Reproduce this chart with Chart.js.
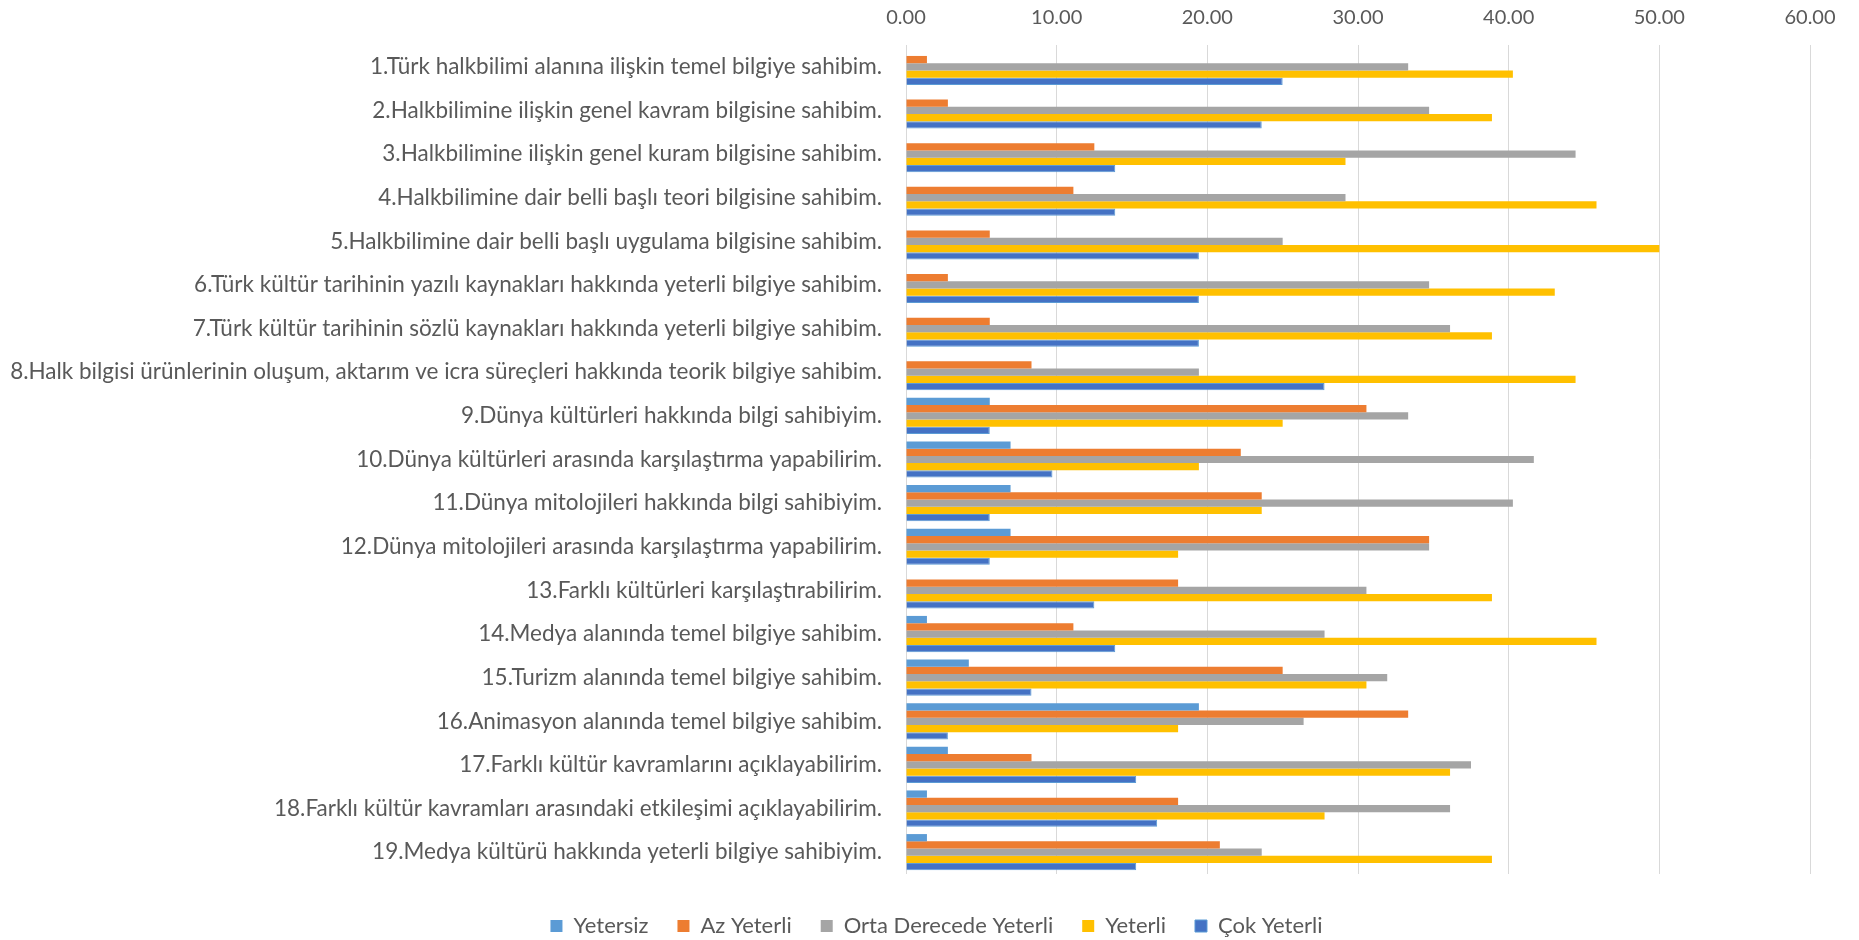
<!DOCTYPE html>
<html>
<head>
<meta charset="utf-8">
<script src="https://cdn.jsdelivr.net/npm/chart.js@4"></script>
<style>
  body { margin: 0; background: #fff; }
  #wrap { width: 1859px; height: 940px; }
</style>
</head>
<body>
<div id="wrap"><canvas id="chart"></canvas></div>
<script>
// Categories (statements)
const categories = [
  "1.Türk halkbilimi alanına ilişkin temel bilgiye sahibim.",
  "2.Halkbilimine ilişkin genel kavram bilgisine sahibim.",
  "3.Halkbilimine ilişkin genel kuram bilgisine sahibim.",
  "4.Halkbilimine dair belli başlı teori bilgisine sahibim.",
  "5.Halkbilimine dair belli başlı uygulama bilgisine sahibim.",
  "6.Türk kültür tarihinin yazılı kaynakları hakkında yeterli bilgiye sahibim.",
  "7.Türk kültür tarihinin sözlü kaynakları hakkında yeterli bilgiye sahibim.",
  "8.Halk bilgisi ürünlerinin oluşum, aktarım ve icra süreçleri hakkında teorik bilgiye sahibim.",
  "9.Dünya kültürleri hakkında bilgi sahibiyim.",
  "10.Dünya kültürleri arasında karşılaştırma yapabilirim.",
  "11.Dünya mitolojileri hakkında bilgi sahibiyim.",
  "12.Dünya mitolojileri arasında karşılaştırma yapabilirim.",
  "13.Farklı kültürleri karşılaştırabilirim.",
  "14.Medya alanında temel bilgiye sahibim.",
  "15.Turizm alanında temel bilgiye sahibim.",
  "16.Animasyon alanında temel bilgiye sahibim.",
  "17.Farklı kültür kavramlarını açıklayabilirim.",
  "18.Farklı kültür kavramları arasındaki etkileşimi açıklayabilirim.",
  "19.Medya kültürü hakkında yeterli bilgiye sahibiyim."
];

// Series values (%)
const yetersiz    = [0, 0, 0, 0, 0, 0, 0, 0, 5.56, 6.94, 6.94, 6.94, 0, 1.39, 4.17, 19.44, 2.78, 1.39, 1.39];
const azYeterli   = [1.39, 2.78, 12.5, 11.11, 5.56, 2.78, 5.56, 8.33, 30.56, 22.22, 23.61, 34.72, 18.06, 11.11, 25, 33.33, 8.33, 18.06, 20.83];
const ortaYeterli = [33.33, 34.72, 44.44, 29.17, 25, 34.72, 36.11, 19.44, 33.33, 41.67, 40.28, 34.72, 30.56, 27.78, 31.94, 26.39, 37.5, 36.11, 23.61];
const yeterli     = [40.28, 38.89, 29.17, 45.83, 50, 43.06, 38.89, 44.44, 25, 19.44, 23.61, 18.06, 38.89, 45.83, 30.56, 18.06, 36.11, 27.78, 38.89];
const cokYeterli  = [25, 23.61, 13.89, 13.89, 19.44, 19.44, 19.44, 27.78, 5.56, 9.72, 5.56, 5.56, 12.5, 13.89, 8.33, 2.78, 15.28, 16.67, 15.28];

// Axis ticks
const xTicks = [0, 10, 20, 30, 40, 50, 60];

const FONT = "Lato, 'Open Sans', sans-serif";
const TEXT = "#595959";

const ds = (label, data, color, border) => ({
  label,
  data,
  backgroundColor: color,
  borderColor: border || color,
  borderWidth: border ? 1 : 0,
  categoryPercentage: 0.83,
  barPercentage: 1.0
});

// long labels run past the y axis box, so don't let them get clipped at its left edge
const unclipLabels = {
  id: "unclipLabels",
  afterLayout(chart) { chart.scales.y.left = 0; }
};

new Chart(document.getElementById("chart"), {
  type: "bar",
  data: {
    labels: categories,
    datasets: [
      ds("Yetersiz", yetersiz, "#5B9BD5"),
      ds("Az Yeterli", azYeterli, "#ED7D31"),
      ds("Orta Derecede Yeterli", ortaYeterli, "#A5A5A5"),
      ds("Yeterli", yeterli, "#FFC000"),
      ds("Çok Yeterli", cokYeterli, "#4472C4", "#5B9BD5")
    ]
  },
  plugins: [unclipLabels],
  options: {
    indexAxis: "y",
    responsive: true,
    maintainAspectRatio: false,
    animation: false,
    // left padding only shifts the centred legend; y axis width is fixed below
    layout: { padding: { left: 63, right: 49, top: 0, bottom: -7 } },
    scales: {
      x: {
        position: "top",
        min: xTicks[0],
        max: xTicks[xTicks.length - 1],
        afterBuildTicks: (scale) => { scale.ticks = xTicks.map(v => ({ value: v })); },
        afterFit: (scale) => { scale.height = 45; },
        grid: { color: "#D9D9D9", lineWidth: 1, drawTicks: false },
        border: { display: false },
        ticks: {
          padding: 15,
          color: TEXT,
          font: { family: FONT, size: 20 },
          callback: (v) => Number(v).toFixed(2)
        }
      },
      y: {
        afterFit: (scale) => { scale.width = 906 - 63; },
        grid: { display: false, drawTicks: false },
        border: { display: false },
        ticks: {
          padding: 24,
          color: TEXT,
          autoSkip: false,
          font: { family: FONT, size: 22.5 }
        }
      }
    },
    plugins: {
      legend: {
        position: "bottom",
        title: { display: true, text: " ", padding: 0, font: { size: 10 } },
        labels: {
          boxWidth: 12,
          boxHeight: 12,
          padding: 29,
          color: TEXT,
          font: { family: FONT, size: 22 }
        }
      },
      tooltip: { enabled: false }
    }
  }
});
</script>
</body>
</html>
